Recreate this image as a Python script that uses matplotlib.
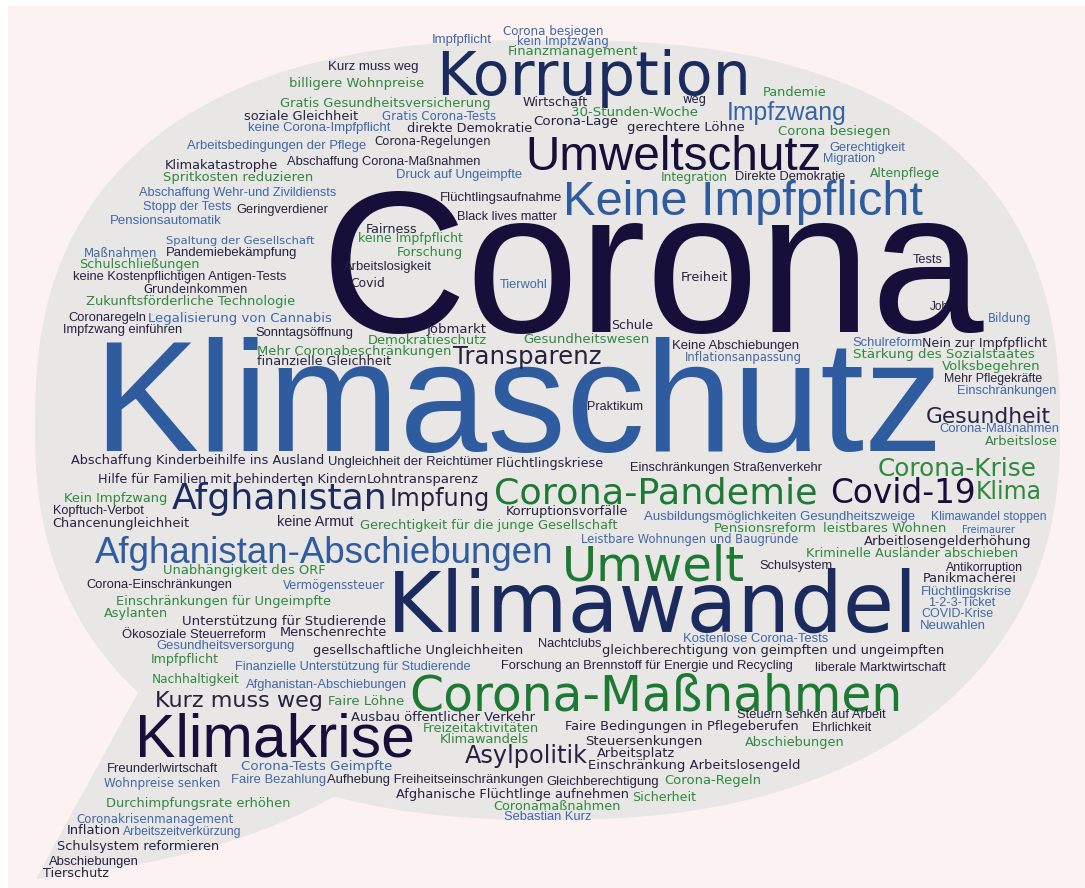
import numpy as np
import matplotlib
matplotlib.use('Agg')
import matplotlib.pyplot as plt
from matplotlib.path import Path
from matplotlib.patches import PathPatch, Polygon, Rectangle

W, H = 1085, 888

# words of the cloud (reading order, roughly top to bottom)
words = [
    'Impfpflicht', 'Corona besiegen', 'kein Impfzwang', 'Finanzmanagement', 'Kurz muss weg',
    'Korruption', 'billigere Wohnpreise', 'Pandemie', 'Gratis Gesundheitsversicherung', 'Wirtschaft',
    'weg', 'Impfzwang', 'soziale Gleichheit', 'Gratis Corona-Tests', '30-Stunden-Woche',
    'keine Corona-Impfpflicht', 'direkte Demokratie', 'Corona-Lage', 'gerechtere Löhne', 'Corona besiegen',
    'Arbeitsbedingungen der Pflege', 'Corona-Regelungen', 'Umweltschutz', 'Gerechtigkeit', 'Klimakatastrophe',
    'Abschaffung Corona-Maßnahmen', 'Migration', 'Spritkosten reduzieren', 'Druck auf Ungeimpfte', 'Integration',
    'Direkte Demokratie', 'Altenpflege', 'Abschaffung Wehr-und Zivildiensts', 'Flüchtlingsaufnahme', 'Keine Impfpflicht',
    'Stopp der Tests', 'Geringverdiener', 'Pensionsautomatik', 'Black lives matter', 'Fairness',
    'Spaltung der Gesellschaft', 'keine Impfpflicht', 'Maßnahmen', 'Pandemiebekämpfung', 'Forschung',
    'Schulschließungen', 'keine Kostenpflichtigen Antigen-Tests', 'Arbeitslosigkeit', 'Grundeinkommen', 'Covid',
    'Tierwohl', 'Freiheit', 'Corona', 'Tests', 'Zukunftsförderliche Technologie',
    'Job', 'Bildung', 'Coronaregeln', 'Legalisierung von Cannabis', 'Impfzwang einführen',
    'Sonntagsöffnung', 'Jobmarkt', 'Schule', 'Demokratieschutz', 'Gesundheitswesen',
    'Keine Abschiebungen', 'Schulreform', 'Nein zur Impfpflicht', 'Mehr Coronabeschränkungen', 'Stärkung des Sozialstaates',
    'Transparenz', 'Inflationsanpassung', 'finanzielle Gleichheit', 'Volksbegehren', 'Mehr Pflegekräfte',
    'Einschränkungen', 'Klimaschutz', 'Praktikum', 'Gesundheit', 'Corona-Maßnahmen',
    'Arbeitslose', 'Abschaffung Kinderbeihilfe ins Ausland', 'Ungleichheit der Reichtümer', 'Flüchtlingskriese', 'Einschränkungen Straßenverkehr',
    'Corona-Krise', 'Hilfe für Familien mit behinderten Kindern', 'Lohntransparenz', 'Corona-Pandemie', 'Covid-19',
    'Klima', 'Kein Impfzwang', 'Afghanistan', 'Impfung', 'Kopftuch-Verbot',
    'Korruptionsvorfälle', 'Chancenungleichheit', 'keine Armut', 'Gerechtigkeit für die junge Gesellschaft', 'Ausbildungsmöglichkeiten Gesundheitszweige',
    'Klimawandel stoppen', 'Pensionsreform', 'leistbares Wohnen', 'Freimaurer', 'Leistbare Wohnungen und Baugründe',
    'Arbeitlosengelderhöhung', 'Afghanistan-Abschiebungen', 'Kriminelle Ausländer abschieben', 'Umwelt', 'Schulsystem',
    'Antikorruption', 'Unabhängigkeit des ORF', 'Panikmacherei', 'Corona-Einschränkungen', 'Vermögenssteuer',
    'Flüchtlingskrise', 'Klimawandel', 'Einschränkungen für Ungeimpfte', '1-2-3-Ticket', 'Asylanten',
    'COVID-Krise', 'Unterstützung für Studierende', 'Neuwahlen', 'Menschenrechte', 'Ökosoziale Steuerreform',
    'Kostenlose Corona-Tests', 'Nachtclubs', 'Gesundheitsversorgung', 'gesellschaftliche Ungleichheiten', 'gleichberechtigung von geimpften und ungeimpften',
    'Impfpflicht', 'Forschung an Brennstoff für Energie und Recycling', 'Finanzielle Unterstützung für Studierende', 'liberale Marktwirtschaft', 'Nachhaltigkeit',
    'Afghanistan-Abschiebungen', 'Corona-Maßnahmen', 'Kurz muss weg', 'Faire Löhne', 'Steuern senken auf Arbeit',
    'Ausbau öffentlicher Verkehr', 'Faire Bedingungen in Pflegeberufen', 'Freizeitaktivitäten', 'Ehrlichkeit', 'Klimakrise',
    'Klimawandels', 'Steuersenkungen', 'Abschiebungen', 'Asylpolitik', 'Arbeitsplatz',
    'Einschränkung Arbeitslosengeld', 'Freunderlwirtschaft', 'Corona-Tests Geimpfte', 'Wohnpreise senken', 'Faire Bezahlung',
    'Aufhebung Freiheitseinschränkungen', 'Gleichberechtigung', 'Corona-Regeln', 'Afghanische Flüchtlinge aufnehmen', 'Sicherheit',
    'Durchimpfungsrate erhöhen', 'Coronamaßnahmen', 'Sebastian Kurz', 'Coronakrisenmanagement', 'Inflation',
    'Arbeitszeitverkürzung', 'Schulsystem reformieren', 'Abschiebungen', 'Tierschutz',
]

# layout of each word, same order: centre x, centre y, width (px), font, colour
layout = [
    (462, 40, 60, 'a', 'b'), (553, 32, 100, 'v', 'b'), (563, 42, 91, 'v', 'b'), (573, 52, 130, 'v', 'g'), (373, 67, 90, 'a', 'd'),
    (594, 79, 315, 'v', 'n'), (357, 83, 135, 'v', 'g'), (795, 92, 64, 'v', 'g'), (385, 103, 210, 'v', 'g'), (555, 102, 65, 'v', 'd'),
    (695, 100, 24, 'v', 'd'), (787, 113, 119, 'a', 'm'), (301, 116, 114, 'v', 'd'), (439, 117, 114, 'v', 'b'), (635, 112, 127, 'v', 'g'),
    (319, 128, 142, 'a', 'b'), (470, 129, 125, 'v', 'd'), (576, 122, 85, 'v', 'd'), (686, 128, 117, 'v', 'd'), (834, 132, 112, 'v', 'g'),
    (277, 146, 179, 'a', 'b'), (433, 141, 117, 'v', 'd'), (674, 157, 297, 'a', 'k'), (867, 148, 76, 'a', 'b'), (221, 165, 113, 'v', 'd'),
    (384, 162, 195, 'a', 'd'), (849, 159, 52, 'a', 'b'), (238, 178, 150, 'v', 'g'), (459, 175, 125, 'a', 'b'), (694, 177, 67, 'v', 'g'),
    (790, 177, 111, 'a', 'd'), (905, 173, 70, 'v', 'g'), (238, 193, 198, 'a', 'b'), (501, 198, 122, 'a', 'd'), (743, 202, 360, 'a', 'B'),
    (187, 207, 89, 'a', 'b'), (282, 210, 92, 'a', 'd'), (166, 221, 112, 'a', 'b'), (507, 217, 100, 'a', 'd'), (392, 229, 51, 'v', 'd'),
    (240, 241, 149, 'v', 'b'), (410, 238, 105, 'v', 'g'), (121, 253, 73, 'v', 'b'), (232, 253, 131, 'a', 'd'), (430, 252, 66, 'v', 'g'),
    (139, 264, 121, 'v', 'g'), (180, 277, 216, 'a', 'd'), (388, 267, 88, 'a', 'd'), (196, 289, 105, 'v', 'd'), (368, 283, 35, 'v', 'd'),
    (524, 285, 48, 'a', 'b'), (704, 277, 48, 'v', 'd'), (653, 279, 664, 'a', 'k'), (928, 260, 30, 'a', 'd'), (191, 301, 208, 'v', 'g'),
    (939, 307, 19, 'a', 'd'), (1010, 318, 44, 'v', 'b'), (107, 318, 78, 'a', 'd'), (240, 318, 184, 'v', 'b'), (123, 330, 119, 'a', 'd'),
    (304, 333, 98, 'a', 'd'), (457, 329, 60, 'v', 'd'), (632, 325, 42, 'v', 'd'), (427, 340, 118, 'v', 'g'), (586, 339, 126, 'v', 'g'),
    (736, 346, 127, 'a', 'd'), (887, 343, 70, 'a', 'b'), (985, 343, 125, 'v', 'd'), (354, 351, 195, 'v', 'g'), (944, 354, 181, 'v', 'g'),
    (527, 357, 148, 'v', 'd'), (743, 357, 118, 'v', 'b'), (324, 361, 135, 'v', 'd'), (991, 366, 98, 'v', 'g'), (993, 379, 99, 'a', 'd'),
    (1007, 391, 100, 'a', 'b'), (518, 410, 850, 'a', 'B'), (615, 407, 56, 'a', 'd'), (988, 417, 125, 'v', 'd'), (999, 429, 119, 'a', 'b'),
    (1021, 441, 72, 'v', 'g'), (198, 460, 253, 'v', 'd'), (410, 462, 164, 'a', 'd'), (550, 463, 108, 'v', 'd'), (726, 468, 192, 'a', 'd'),
    (957, 469, 159, 'v', 'g'), (232, 479, 270, 'v', 'd'), (423, 479, 112, 'v', 'd'), (656, 493, 323, 'v', 'G'), (903, 493, 146, 'v', 'k'),
    (1009, 492, 66, 'v', 'g'), (116, 498, 104, 'v', 'g'), (280, 499, 216, 'v', 'n'), (440, 499, 100, 'v', 'd'), (98, 511, 91, 'a', 'd'),
    (567, 511, 122, 'v', 'd'), (121, 523, 137, 'v', 'd'), (315, 522, 76, 'a', 'd'), (489, 525, 258, 'v', 'g'), (780, 517, 271, 'a', 'b'),
    (989, 517, 116, 'a', 'b'), (765, 528, 103, 'v', 'g'), (885, 528, 123, 'v', 'g'), (988, 530, 53, 'v', 'b'), (690, 539, 219, 'v', 'b'),
    (948, 541, 167, 'v', 'd'), (324, 553, 458, 'a', 'B'), (912, 553, 213, 'v', 'g'), (653, 567, 183, 'v', 'G'), (796, 566, 74, 'a', 'd'),
    (984, 568, 77, 'a', 'd'), (244, 570, 162, 'v', 'g'), (970, 578, 94, 'v', 'd'), (159, 585, 147, 'a', 'd'), (334, 585, 102, 'v', 'b'),
    (966, 592, 91, 'a', 'b'), (652, 608, 531, 'v', 'n'), (224, 601, 216, 'v', 'g'), (962, 603, 67, 'a', 'b'), (136, 613, 64, 'v', 'g'),
    (957, 614, 72, 'a', 'b'), (284, 621, 204, 'v', 'd'), (953, 626, 66, 'a', 'b'), (333, 632, 107, 'v', 'd'), (194, 635, 143, 'a', 'd'),
    (756, 639, 146, 'a', 'b'), (570, 644, 64, 'a', 'd'), (226, 646, 138, 'a', 'b'), (418, 650, 210, 'v', 'd'), (773, 650, 341, 'v', 'd'),
    (185, 659, 68, 'v', 'g'), (647, 666, 291, 'a', 'd'), (353, 667, 235, 'a', 'b'), (880, 668, 131, 'a', 'd'), (196, 679, 88, 'v', 'g'),
    (326, 685, 163, 'a', 'b'), (656, 696, 493, 'v', 'G'), (239, 701, 168, 'v', 'd'), (366, 701, 76, 'v', 'g'), (811, 715, 149, 'a', 'd'),
    (443, 717, 183, 'v', 'd'), (682, 726, 234, 'v', 'd'), (481, 728, 117, 'v', 'g'), (842, 728, 59, 'a', 'd'), (275, 741, 280, 'a', 'k'),
    (484, 739, 89, 'v', 'g'), (644, 741, 117, 'v', 'd'), (795, 742, 100, 'v', 'g'), (526, 756, 123, 'v', 'd'), (636, 753, 78, 'v', 'd'),
    (694, 765, 211, 'v', 'd'), (162, 769, 111, 'a', 'd'), (317, 766, 151, 'v', 'b'), (162, 783, 116, 'v', 'b'), (279, 780, 94, 'a', 'b'),
    (435, 780, 217, 'a', 'd'), (603, 782, 112, 'a', 'd'), (713, 780, 97, 'v', 'g'), (513, 794, 233, 'v', 'd'), (664, 797, 64, 'v', 'g'),
    (198, 803, 185, 'v', 'g'), (557, 806, 128, 'v', 'g'), (548, 817, 88, 'a', 'b'), (155, 819, 157, 'v', 'b'), (94, 830, 54, 'v', 'd'),
    (182, 832, 119, 'a', 'b'), (138, 846, 162, 'v', 'd'), (94, 862, 90, 'a', 'd'), (76, 873, 66, 'v', 'd'),
]

fonts = {'a': 'Liberation Sans', 'v': 'DejaVu Sans'}
colours = {
    'd': '#26223f',   # small dark
    'b': '#4068a8',   # small blue
    'g': '#2e8a3e',   # small green
    'm': '#3563a6',   # mid blue
    'n': '#1b2b5e',   # navy
    'B': '#2e5c9e',   # big blue
    'k': '#150f3a',   # darkest
    'G': '#1c7a33',   # big green
}

bg = '#fcf2f2'
bubble = '#e9e6e6'

fig = plt.figure(figsize=(W / 100, H / 100), dpi=100)
fig.patch.set_facecolor(bg)
ax = fig.add_axes([0, 0, 1, 1])
ax.set_xlim(0, W)
ax.set_ylim(H, 0)
ax.axis('off')

# thin white border on top and left like the screenshot
ax.add_patch(Rectangle((0, 0), W, 5, color='white', zorder=0))
ax.add_patch(Rectangle((0, 0), 7, H, color='white', zorder=0))

# speech bubble: superellipse body (fuller on top) + curved tail
cx, cy, a, b = 547.5, 430, 512.5, 390
t = np.linspace(0, 2 * np.pi, 600)
n = np.where(np.sin(t) > 0, 2.3, 2.5)   # sin>0 -> lower half (y axis inverted)
ex = cx + a * np.sign(np.cos(t)) * np.abs(np.cos(t)) ** (2 / n)
ey = cy + b * np.sign(np.sin(t)) * np.abs(np.sin(t)) ** (2 / n)
ax.add_patch(Polygon(np.column_stack([ex, ey]), closed=True, color=bubble, lw=0, zorder=1))

tail = Path([(155, 662), (92, 775), (36, 879), (230, 860), (345, 790), (300, 700), (155, 662)],
            [Path.MOVETO, Path.CURVE3, Path.CURVE3, Path.CURVE3, Path.CURVE3, Path.LINETO, Path.CLOSEPOLY])
ax.add_patch(PathPatch(tail, color=bubble, lw=0, zorder=1))

# place words, then rescale font so each word gets its measured width
texts = []
for word, (x, y, w, f, c) in zip(words, layout):
    z = 2 if w > 250 else 3   # small words stay on top of the big ones
    tx = ax.text(x, y, word, fontsize=20, family=fonts[f], color=colours[c],
                 ha='center', va='center', zorder=z)
    texts.append((tx, w))

r = fig.canvas.get_renderer()
for i in range(2):
    for tx, w in texts:
        bw = tx.get_window_extent(renderer=r).width
        if bw > 0:
            tx.set_fontsize(tx.get_fontsize() * w / bw)

fig.savefig('out.png', dpi=100, facecolor=fig.get_facecolor())
